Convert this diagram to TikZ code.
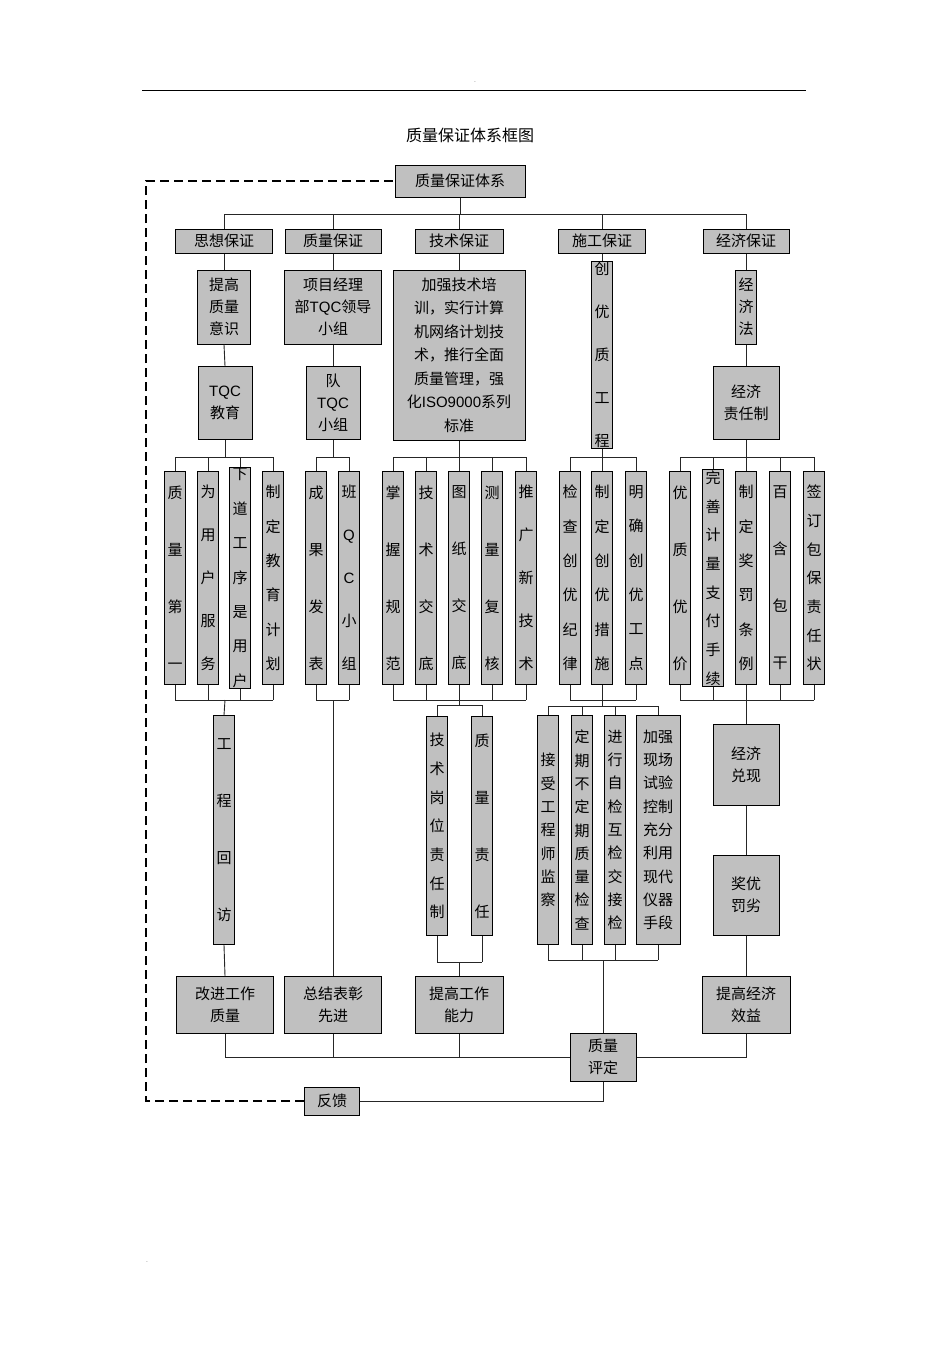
\documentclass[tikz,border=0pt]{standalone}
\usepackage{fontspec}
\setmainfont{Liberation Sans}
\newfontfamily\cjk{Noto Sans CJK SC}
\begin{document}
\begin{tikzpicture}[x=1pt,y=-1pt,
 box/.style={draw=black,line width=1pt,fill={rgb,255:red,192;green,192;blue,192},inner sep=1pt,align=center,font=\cjk\fontsize{15}{22}\selectfont},
 col/.style={box,minimum width=21,minimum height=213,text width=16},
 c4/.style={font=\cjk\fontsize{15}{57}\selectfont},
 c5/.style={font=\cjk\fontsize{15}{43}\selectfont},
 c6/.style={font=\cjk\fontsize{15}{34.4}\selectfont},
 c7/.style={font=\cjk\fontsize{15}{28.7}\selectfont},
 c9/.style={font=\cjk\fontsize{15}{23.3}\selectfont},
 ln/.style={line width=0.9pt,draw=black!85}]
\useasboundingbox (0,0) rectangle (950,1345);
\draw[line width=0.6pt] (142,90) -- (806,90);
\node (d1) at (475,82) {\tiny .};
\node (d2) at (147,1262) {\tiny .};
\node[font=\cjk\fontsize{16}{20}\selectfont] (title) at (470,135) {质量保证体系框图};
% root and level 2
\node[box,minimum width=130,minimum height=32] (root) at (460,181) {质量保证体系};
\node[box,minimum width=97,minimum height=24] (g1) at (224,241) {思想保证};
\node[box,minimum width=96,minimum height=24] (g2) at (333,241) {质量保证};
\node[box,minimum width=88,minimum height=24] (g3) at (459,241) {技术保证};
\node[box,minimum width=87,minimum height=24] (g4) at (602,241) {施工保证};
\node[box,minimum width=86,minimum height=24] (g5) at (746,241) {经济保证};
\draw[ln] (root.south) -- (root.south |- 0,214);
\draw[ln] (g1.north |- 0,214) -- (g5.north |- 0,214);
\foreach \g in {g1,g2,g3,g4,g5} \draw[ln] (\g.north) -- (\g.north |- 0,214);
% level 3
\node[box,minimum width=53,minimum height=74] (a1) at (224,307) {提高\\质量\\意识};
\node[box,minimum width=54,minimum height=73] (a2) at (225,403) {{\fontspec{Liberation Sans}TQC}\\教育};
\node[box,minimum width=97,minimum height=74] (b1) at (333,307) {项目经理\\部{\fontspec{Liberation Sans}TQC}领导\\小组};
\node[box,minimum width=54,minimum height=73] (b2) at (333,403) {队\\{\fontspec{Liberation Sans}TQC}\\小组};
\node[box,minimum width=132,minimum height=170,font=\cjk\fontsize{15}{23.5}\selectfont] (t1) at (459,355) {加强技术培\\训，实行计算\\机网络计划技\\术，推行全面\\质量管理，强\\化{\fontspec{Liberation Sans}ISO9000}系列\\标准};
\node[col,minimum height=170,c5] (s1) at (602,355) {创\\优\\质\\工\\程};
\node[col,minimum height=74,font=\cjk\fontsize{15}{22}\selectfont] (e1) at (746,307) {经\\济\\法};
\node[box,minimum width=66,minimum height=73] (e2) at (746,403) {经济\\责任制};
\foreach \u/\v in {g1/a1,a1/a2,g2/b1,b1/b2,g3/t1,g4/s1,g5/e1,e1/e2} \draw[ln] (\u.south) -- (\v.north);
% level 4 columns
\node[col,c4] (x1) at (175,578) {质\\量\\第\\一};
\node[col,c5] (x2) at (208,578) {为\\用\\户\\服\\务};
\node[col,c6] (x3) at (240,578) {下\\道\\工\\序\\是\\用\\户};
\node[col,c6] (x4) at (273,578) {制\\定\\教\\育\\计\\划};
\node[col,c4] (y1) at (316,578) {成\\果\\发\\表};
\node[col,c5] (y2) at (349,578) {班\\{\fontspec{Liberation Sans}Q}\\{\fontspec{Liberation Sans}C}\\小\\组};
\node[col,c4] (z1) at (393,578) {掌\\握\\规\\范};
\node[col,c4] (z2) at (426,578) {技\\术\\交\\底};
\node[col,c4] (z3) at (459,578) {图\\纸\\交\\底};
\node[col,c4] (z4) at (492,578) {测\\量\\复\\核};
\node[col,c5] (z5) at (526,578) {推\\广\\新\\技\\术};
\node[col,c6] (w1) at (570,578) {检\\查\\创\\优\\纪\\律};
\node[col,c6] (w2) at (602,578) {制\\定\\创\\优\\措\\施};
\node[col,c6] (w3) at (636,578) {明\\确\\创\\优\\工\\点};
\node[col,c4] (v1) at (680,578) {优\\质\\优\\价};
\node[col,c7] (v2) at (713,578) {完\\善\\计\\量\\支\\付\\手\\续};
\node[col,c6] (v3) at (746,578) {制\\定\\奖\\罚\\条\\例};
\node[col,c4] (v4) at (780,578) {百\\含\\包\\干};
\node[col,c7] (v5) at (814,578) {签\\订\\包\\保\\责\\任\\状};
\foreach \l/\r/\s in {x1/x4/a2,y1/y2/b2,z1/z5/t1,w1/w3/s1,v1/v5/e2}{
  \draw[ln] (\s.south) -- (\s.south |- 0,457);
  \draw[ln] (\l.north |- 0,457) -- (\r.north |- 0,457);
  \draw[ln] (\l.south |- 0,700) -- (\r.south |- 0,700);}
\foreach \n in {x1,x2,x3,x4,y1,y2,z1,z2,z3,z4,z5,w1,w2,w3,v1,v2,v3,v4,v5}{
  \draw[ln] (\n.north) -- (\n.north |- 0,457);
  \draw[ln] (\n.south) -- (\n.south |- 0,700);}
% level 5
\node[col,minimum height=229,c4] (h1) at (224,830) {工\\程\\回\\访};
\node[col,minimum height=219,c7] (k1) at (437,826) {技\\术\\岗\\位\\责\\任\\制};
\node[col,minimum height=219,c4] (k2) at (482,826) {质\\量\\责\\任};
\node[col,minimum height=229,c9] (m1) at (548,830) {接\\受\\工\\程\\师\\监\\察};
\node[col,minimum height=229,c9] (m2) at (582,830) {定\\期\\不\\定\\期\\质\\量\\检\\查};
\node[col,minimum height=229,c9] (m3) at (615,830) {进\\行\\自\\检\\互\\检\\交\\接\\检};
\node[box,minimum width=44,minimum height=229,font=\cjk\fontsize{15}{23.3}\selectfont] (m4) at (658,830) {加强\\现场\\试验\\控制\\充分\\利用\\现代\\仪器\\手段};
\node[box,minimum width=66,minimum height=81] (r1) at (746,765) {经济\\兑现};
\node[box,minimum width=66,minimum height=80] (r2) at (746,895) {奖优\\罚劣};
% bottom row
\node[box,minimum width=97,minimum height=57] (p1) at (225,1005) {改进工作\\质量};
\node[box,minimum width=97,minimum height=57] (p2) at (333,1005) {总结表彰\\先进};
\node[box,minimum width=88,minimum height=57] (p3) at (459,1005) {提高工作\\能力};
\node[box,minimum width=88,minimum height=57] (p4) at (746,1005) {提高经济\\效益};
\node[box,minimum width=66,minimum height=48] (q) at (603,1057) {质量\\评定};
\node[box,minimum width=55,minimum height=28] (fb) at (332,1101) {反馈};
% connections lower
\draw[ln] (a2.south |- 0,700) -- (h1.north);
\draw[ln] (h1.south) -- (p1.north);
\draw[ln] (b2.south |- 0,700) -- (p2.north);
\draw[ln] (t1.south |- 0,700) -- (t1.south |- 0,705);
\draw[ln] (k1.north |- 0,705) -- (k2.north |- 0,705);
\foreach \n in {k1,k2}{\draw[ln] (\n.north) -- (\n.north |- 0,705); \draw[ln] (\n.south) -- (\n.south |- 0,962);}
\draw[ln] (k1.south |- 0,962) -- (k2.south |- 0,962);
\draw[ln] (p3.north |- 0,962) -- (p3.north);
\draw[ln] (s1.south |- 0,700) -- (s1.south |- 0,706);
\draw[ln] (m1.north |- 0,706) -- (m4.north |- 0,706);
\draw[ln] (m1.south |- 0,960) -- (m4.south |- 0,960);
\foreach \n in {m1,m2,m3,m4}{\draw[ln] (\n.north) -- (\n.north |- 0,706); \draw[ln] (\n.south) -- (\n.south |- 0,960);}
\draw[ln] (q.north |- 0,960) -- (q.north);
\draw[ln] (e2.south |- 0,700) -- (r1.north);
\draw[ln] (r1.south) -- (r2.north);
\draw[ln] (r2.south) -- (p4.north);
\draw[ln] (p1.south) |- (q.west);
\draw[ln] (p2.south) -- (p2.south |- q.west);
\draw[ln] (p3.south) -- (p3.south |- q.west);
\draw[ln] (p4.south) |- (q.east);
\draw[ln] (q.south) |- (fb.east);
\draw[line width=2.2pt,dash pattern=on 9pt off 5pt] (fb.west) -| (146,181) -- (root.west);
\end{tikzpicture}
\end{document}
